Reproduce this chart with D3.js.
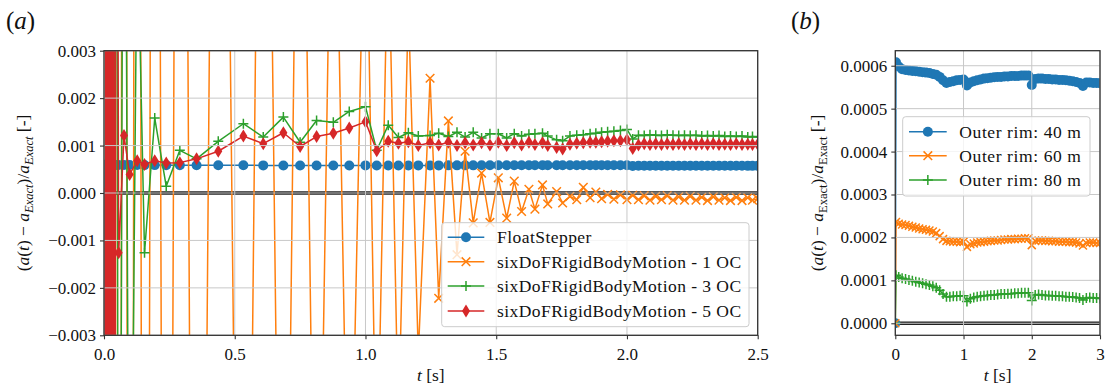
<!DOCTYPE html>
<html><head><meta charset="utf-8">
<script src="https://cdn.jsdelivr.net/npm/d3@7"></script>
<style>
body{margin:0;background:#fff}
svg{display:block}
text{font-family:"Liberation Serif","Times New Roman",serif;fill:#111}
</style>
</head><body>
<svg id="c" width="1107" height="389"></svg>
<script>
// ---------------- Panel (a) data ----------------
const tA = [0, 0.004, 0.008, 0.012, 0.016, 0.020, 0.025, 0.030, 0.035, 0.040,
  0.046, 0.056, 0.0765, 0.098, 0.127, 0.155, 0.194, 0.238, 0.290, 0.354,
  0.437, 0.533, 0.609, 0.686, 0.750, 0.813, 0.877, 0.938, 1.000, 1.043,
  1.087, 1.126, 1.164, 1.202, 1.247, 1.280, 1.317, 1.350, 1.381, 1.412,
  1.444, 1.476, 1.508, 1.540, 1.569, 1.597, 1.625, 1.648, 1.677, 1.697,
  1.731, 1.754, 1.782, 1.808, 1.833, 1.859, 1.881, 1.903, 1.926, 1.950,
  1.975, 2.000, 2.022, 2.044, 2.066, 2.088, 2.110, 2.132, 2.154, 2.176,
  2.198, 2.220, 2.242, 2.264, 2.286, 2.308, 2.330, 2.352, 2.374, 2.396,
  2.418, 2.440, 2.462, 2.480, 2.500];

const floatStepper = [0, 0.000598, 0.000596, 0.000595, 0.000594, 0.000594, 0.000593, 0.000593, 0.000592, 0.000592,
  0.000591, 0.000590, 0.000590, 0.000589, 0.000589, 0.000588, 0.000588, 0.000587, 0.000587, 0.000586,
  0.000585, 0.000584, 0.000582, 0.000580, 0.000579, 0.000580, 0.000581, 0.000581, 0.000582, 0.000578,
  0.000580, 0.000581, 0.000581, 0.000582, 0.000582, 0.000582, 0.000583, 0.000583, 0.000583, 0.000583,
  0.000584, 0.000584, 0.000584, 0.000584, 0.000584, 0.000585, 0.000585, 0.000585, 0.000585, 0.000585,
  0.000585, 0.000585, 0.000585, 0.000585, 0.000586, 0.000586, 0.000586, 0.000586, 0.000586, 0.000586,
  0.000586, 0.000586, 0.000570, 0.000575, 0.000576, 0.000576, 0.000576, 0.000576, 0.000575, 0.000575,
  0.000575, 0.000575, 0.000574, 0.000574, 0.000574, 0.000574, 0.000574, 0.000573, 0.000573, 0.000573,
  0.000573, 0.000573, 0.000572, 0.000572, 0.000572];

const oc1 = [0, -0.09, 0.09, -0.085, 0.085, -0.08, 0.08, -0.075, 0.075, -0.07,
  0.07, -0.065, 0.06, -0.055, 0.05, -0.046, 0.042, -0.038, 0.034, -0.030,
  0.026, -0.022, 0.019, -0.016, 0.014, -0.012, 0.010, -0.0088, 0.0076, -0.0066,
  0.0058, -0.0050, 0.0040, -0.0034, 0.00242, -0.00222, 0.00152, -0.0013, 0.00088, -0.00063,
  0.00042, -0.00062, 0.00032, -0.00053, 0.00025, -0.00039, 0.00008, -0.00034, 0.00017, -0.00023,
  0.00003, -0.00021, -0.00007, -0.00014, 0.00012, -0.0001, 0.00002, -0.00012, -0.00003, -0.00013,
  -0.00004, -0.00014, -0.00005, -0.00014, -0.00006, -0.00015, -0.00007, -0.00014, -0.00006, -0.00015,
  -0.00008, -0.00015, -0.00007, -0.00015, -0.00009, -0.00016, -0.00008, -0.00015, -0.00010, -0.00016,
  -0.00009, -0.00016, -0.00010, -0.00015, -0.00012];

const oc3 = [0, -0.05, 0.05, -0.045, 0.045, -0.04, 0.04, -0.035, 0.03, -0.028,
  0.025, -0.02, 0.015, -0.012, 0.006, -0.00126, 0.00158, 0.00014, 0.00090, 0.00072,
  0.00109, 0.00146, 0.00118, 0.00160, 0.00107, 0.00153, 0.00149, 0.00172, 0.00182, 0.00090,
  0.00143, 0.00117, 0.00127, 0.00120, 0.00121, 0.00126, 0.00119, 0.00128, 0.00118, 0.00128,
  0.00116, 0.00125, 0.00125, 0.00116, 0.00125, 0.00120, 0.00124, 0.00125, 0.00126, 0.00120,
  0.00112, 0.00110, 0.00120, 0.00122, 0.00123, 0.00125, 0.00126, 0.00128, 0.00129, 0.00130,
  0.00132, 0.00134, 0.00114, 0.00122, 0.00121, 0.00123, 0.00122, 0.00121, 0.00123, 0.00122,
  0.00121, 0.00122, 0.00121, 0.00122, 0.00120, 0.00121, 0.00120, 0.00121, 0.00119, 0.00120,
  0.00119, 0.00120, 0.00118, 0.00119, 0.00118];

const oc5 = [0, -0.06, 0.06, -0.055, 0.05, -0.045, 0.04, -0.035, 0.03, -0.025,
  0.02, -0.00126, 0.00121, 0.00039, 0.00068, 0.00060, 0.00068, 0.00063, 0.00064, 0.00072,
  0.00088, 0.00120, 0.00104, 0.00127, 0.00098, 0.00119, 0.00126, 0.00137, 0.00150, 0.00089,
  0.00109, 0.00105, 0.00108, 0.00100, 0.00106, 0.00101, 0.00107, 0.00100, 0.00106, 0.00101,
  0.00106, 0.00101, 0.00107, 0.00100, 0.00106, 0.00101, 0.00107, 0.00102, 0.00106, 0.00100,
  0.00096, 0.00093, 0.00103, 0.00105, 0.00106, 0.00107, 0.00107, 0.00108, 0.00109, 0.00110,
  0.00110, 0.00112, 0.00094, 0.00101, 0.00104, 0.00102, 0.00104, 0.00102, 0.00104, 0.00102,
  0.00104, 0.00102, 0.00104, 0.00102, 0.00104, 0.00102, 0.00104, 0.00102, 0.00103, 0.00102,
  0.00104, 0.00102, 0.00103, 0.00102, 0.00103];

const namesA = ["FloatStepper", "sixDoFRigidBodyMotion - 1 OC", "sixDoFRigidBodyMotion - 3 OC", "sixDoFRigidBodyMotion - 5 OC"];
const xTicksA = [0, 0.5, 1.0, 1.5, 2.0, 2.5];
const xTickLabelsA = ["0.0", "0.5", "1.0", "1.5", "2.0", "2.5"];
const yTicksA = [-0.003, -0.002, -0.001, 0, 0.001, 0.002, 0.003];
const yTickLabelsA = ["\u22120.003", "\u22120.002", "\u22120.001", "0.000", "0.001", "0.002", "0.003"];

// ---------------- Panel (b) data ----------------
const tB = [0, 0.01, 0.05, 0.10, 0.15, 0.20, 0.25, 0.30, 0.35, 0.40,
  0.45, 0.50, 0.55, 0.60, 0.65, 0.70, 0.75, 0.80, 0.85, 0.90,
  0.95, 1.00, 1.05, 1.10, 1.15, 1.20, 1.25, 1.30, 1.35, 1.40,
  1.45, 1.50, 1.55, 1.60, 1.65, 1.70, 1.75, 1.80, 1.85, 1.90,
  1.95, 2.00, 2.05, 2.10, 2.15, 2.20, 2.25, 2.30, 2.35, 2.40,
  2.45, 2.50, 2.55, 2.60, 2.65, 2.70, 2.75, 2.80, 2.85, 2.90,
  2.95, 3.00];

const rim40 = [0, 0.000608, 0.000598, 0.000592, 0.000590, 0.000589, 0.000588, 0.000587, 0.000586, 0.000585,
  0.000584, 0.000583, 0.000581, 0.000579, 0.000574, 0.000566, 0.000560, 0.000562, 0.000564, 0.000566,
  0.000567, 0.000568, 0.000554, 0.000561, 0.000564, 0.000566, 0.000568, 0.000570, 0.000571, 0.000572,
  0.000573, 0.000574, 0.000574, 0.000575, 0.000575, 0.000576, 0.000576, 0.000576, 0.000577, 0.000577,
  0.000577, 0.000555, 0.000569, 0.000570, 0.000570, 0.000569, 0.000569, 0.000568, 0.000568, 0.000567,
  0.000567, 0.000566, 0.000565, 0.000564, 0.000562, 0.000560, 0.000553, 0.000561, 0.000561, 0.000560,
  0.000560, 0.000559];

const rim60 = [0, 0.000236, 0.000232, 0.000230, 0.000229, 0.000227, 0.000225, 0.000223, 0.000221, 0.000219,
  0.000218, 0.000216, 0.000214, 0.000210, 0.000203, 0.000196, 0.000192, 0.000191, 0.000190, 0.000190,
  0.000189, 0.000190, 0.000178, 0.000184, 0.000186, 0.000188, 0.000189, 0.000190, 0.000191, 0.000192,
  0.000193, 0.000193, 0.000194, 0.000195, 0.000195, 0.000196, 0.000196, 0.000197, 0.000197, 0.000198,
  0.000198, 0.000182, 0.000192, 0.000193, 0.000193, 0.000192, 0.000192, 0.000191, 0.000191, 0.000190,
  0.000190, 0.000190, 0.000189, 0.000189, 0.000188, 0.000186, 0.000181, 0.000187, 0.000188, 0.000188,
  0.000187, 0.000187];

const rim80 = [0, 0.000112, 0.000108, 0.000105, 0.000103, 0.000101, 0.000099, 0.000097, 0.000095, 0.000093,
  0.000091, 0.000089, 0.000086, 0.000083, 0.000077, 0.000068, 0.000062, 0.000062, 0.000063, 0.000063,
  0.000064, 0.000064, 0.000051, 0.000057, 0.000060, 0.000062, 0.000063, 0.000064, 0.000065, 0.000066,
  0.000066, 0.000067, 0.000068, 0.000068, 0.000069, 0.000069, 0.000070, 0.000070, 0.000071, 0.000071,
  0.000071, 0.000053, 0.000066, 0.000067, 0.000066, 0.000065, 0.000065, 0.000064, 0.000064, 0.000063,
  0.000063, 0.000062, 0.000062, 0.000061, 0.000060, 0.000059, 0.000054, 0.000059, 0.000060, 0.000059,
  0.000059, 0.000058];

const namesB = ["Outer rim: 40 m", "Outer rim: 60 m", "Outer rim: 80 m"];
const xTicksB = [0, 1, 2, 3];
const xTickLabelsB = ["0", "1", "2", "3"];
const yTicksB = [0, 0.0001, 0.0002, 0.0003, 0.0004, 0.0005, 0.0006];
const yTickLabelsB = ["0.0000", "0.0001", "0.0002", "0.0003", "0.0004", "0.0005", "0.0006"];

// ---------------- drawing ----------------
const C = {blue: "#1f77b4", orange: "#ff7f0e", green: "#2ca02c", red: "#d62728"};
const svg = d3.select("#c");
const FS = 17;

function drawMarker(g, kind, cx, cy, color, s) {
  if (kind === "o") {
    g.append("circle").attr("cx", cx).attr("cy", cy).attr("r", s.r).attr("fill", color);
  } else if (kind === "x") {
    const h = s.h;
    g.append("path").attr("d", `M${cx-h},${cy-h}L${cx+h},${cy+h}M${cx-h},${cy+h}L${cx+h},${cy-h}`)
      .attr("stroke", color).attr("stroke-width", 1.5).attr("fill", "none");
  } else if (kind === "+") {
    const h = s.h;
    g.append("path").attr("d", `M${cx-h},${cy}H${cx+h}M${cx},${cy-h}V${cy+h}`)
      .attr("stroke", color).attr("stroke-width", 1.5).attr("fill", "none");
  } else if (kind === "d") {
    g.append("path").attr("d", `M${cx},${cy-s.hh}L${cx+s.hw},${cy}L${cx},${cy+s.hh}L${cx-s.hw},${cy}Z`)
      .attr("fill", color);
  }
}

function mathLabel(g, cx, cy, uprightSub) {
  const t = g.append("text").attr("transform", `translate(${cx},${cy}) rotate(-90)`)
    .attr("text-anchor", "middle").style("font-size", "17.5px");
  const parts = [["(", 0], ["a", 1], ["(", 0], ["t", 1], [") \u2212 ", 0], ["a", 1], ["Exact", 2], [")/", 0], ["a", 1], ["Exact", 2], [" [-]", 0]];
  let sub = false;
  parts.forEach(([s, k]) => {
    const sp = t.append("tspan").text(s);
    if (k === 1) sp.style("font-style", "italic");
    if (k === 2) {
      sp.style("font-size", "12.5px").attr("dy", 4);
      if (!uprightSub) sp.style("font-style", "italic");
      sub = true;
    } else if (sub) {
      sp.attr("dy", -4); sub = false;
    }
  });
}

function panel(o) {
  const g = svg.append("g");
  const x = d3.scaleLinear().domain(o.xDomain).range([o.left, o.right]);
  const y = d3.scaleLinear().domain(o.yDomain).range([o.bottom, o.top]);
  const clipId = o.id + "clip";
  svg.append("clipPath").attr("id", clipId).append("rect")
    .attr("x", o.left).attr("y", o.top).attr("width", o.right - o.left).attr("height", o.bottom - o.top);

  const plot = g.append("g").attr("clip-path", `url(#${clipId})`);
  plot.append("line").attr("x1", o.left).attr("x2", o.right).attr("y1", y(0)).attr("y2", y(0))
    .attr("stroke", "#222").attr("stroke-width", 3.4);

  const line = d3.line().x(d => x(d[0])).y(d => y(d[1]));
  o.series.forEach(s => {
    const pts = s.t.map((t, i) => [t, s.v[i]]);
    plot.append("path").attr("d", line(pts)).attr("fill", "none").attr("stroke", s.color)
      .attr("stroke-width", 1.5).attr("stroke-linejoin", "round");
    const mg = plot.append("g");
    pts.forEach(p => {
      const py = y(p[1]);
      if (py < o.top - 20 || py > o.bottom + 20) return;
      drawMarker(mg, s.marker, x(p[0]), py, s.color, s.size);
    });
  });

  const grid = g.append("g").attr("stroke", "#c8c8c8").attr("stroke-width", 1);
  o.xTicks.forEach(v => grid.append("line").attr("x1", x(v)).attr("x2", x(v)).attr("y1", o.top).attr("y2", o.bottom));
  o.yTicks.forEach(v => grid.append("line").attr("x1", o.left).attr("x2", o.right).attr("y1", y(v)).attr("y2", y(v)));

  const ax = d3.axisBottom(x).tickValues(o.xTicks).tickFormat((d, i) => o.xLabels[i]).tickSize(4).tickPadding(5);
  const ay = d3.axisLeft(y).tickValues(o.yTicks).tickFormat((d, i) => o.yLabels[i]).tickSize(4).tickPadding(4);
  const gx = g.append("g").attr("transform", `translate(0,${o.bottom})`).call(ax);
  const gy = g.append("g").attr("transform", `translate(${o.left},0)`).call(ay);
  [gx, gy].forEach(a => {
    a.select(".domain").remove();
    a.selectAll("line").attr("stroke", "#333").attr("stroke-width", 1.1);
    a.selectAll("text").style("font-size", FS + "px").style("font-family", "'Liberation Serif', serif").attr("fill", "#111");
  });
  gx.selectAll("text").attr("dy", "0.95em");
  g.append("rect").attr("x", o.left).attr("y", o.top).attr("width", o.right - o.left).attr("height", o.bottom - o.top)
    .attr("fill", "none").attr("stroke", "#333").attr("stroke-width", 1.3);

  const xl = g.append("text").attr("x", (o.left + o.right) / 2).attr("y", 381).attr("text-anchor", "middle").style("font-size", "17.5px");
  xl.append("tspan").style("font-style", "italic").text("t");
  xl.append("tspan").text(" [s]");
  mathLabel(g, o.ylabelX, (o.top + o.bottom) / 2, o.uprightSub);

  const tt = g.append("text").attr("x", o.titleX).attr("y", 29).style("font-size", "25px");
  tt.append("tspan").text("(");
  tt.append("tspan").style("font-style", "italic").text(o.title);
  tt.append("tspan").text(")");

  const L = o.legend;
  const lg = g.append("g");
  lg.append("rect").attr("x", L.x).attr("y", L.y).attr("width", L.w).attr("height", L.h).attr("rx", 3)
    .attr("fill", "#fff").attr("fill-opacity", 0.8).attr("stroke", "#cccccc").attr("stroke-width", 1);
  o.series.forEach((s, i) => {
    const ry = L.rows[i];
    lg.append("line").attr("x1", L.hx0).attr("x2", L.hx1).attr("y1", ry).attr("y2", ry)
      .attr("stroke", s.color).attr("stroke-width", 1.5);
    drawMarker(lg, s.marker, (L.hx0 + L.hx1) / 2, ry, s.color, s.legendSize || s.size);
    lg.append("text").attr("x", L.tx).attr("y", ry + 6).style("font-size", "17.5px")
      .style("letter-spacing", L.ls + "px").text(s.name);
  });
}

panel({
  id: "a", left: 104, right: 757.7, top: 50.7, bottom: 335.3,
  xDomain: [0, 2.5], yDomain: [-0.003, 0.003],
  xTicks: xTicksA, xLabels: xTickLabelsA, yTicks: yTicksA, yLabels: yTickLabelsA,
  ylabelX: 29, uprightSub: false, title: "a", titleX: 6,
  series: [
    {name: namesA[0], t: tA, v: floatStepper, color: C.blue, marker: "o", size: {r: 5}},
    {name: namesA[1], t: tA, v: oc1, color: C.orange, marker: "x", size: {h: 4.3}},
    {name: namesA[2], t: tA, v: oc3, color: C.green, marker: "+", size: {h: 5}},
    {name: namesA[3], t: tA, v: oc5, color: C.red, marker: "d", size: {hw: 4, hh: 6.5}}
  ],
  legend: {x: 441.7, y: 222.7, w: 307.3, h: 104, rows: [237.3, 261.7, 286, 311], hx0: 447.7, hx1: 484.3, tx: 497, ls: 0.45}
});

panel({
  id: "b", left: 895.3, right: 1100, top: 50.7, bottom: 335.3,
  xDomain: [0, 3], yDomain: [-0.000028, 0.000635],
  xTicks: xTicksB, xLabels: xTickLabelsB, yTicks: yTicksB, yLabels: yTickLabelsB,
  ylabelX: 823, uprightSub: true, title: "b", titleX: 791,
  series: [
    {name: namesB[0], t: tB, v: rim40, color: C.blue, marker: "o", size: {r: 5}, legendSize: {r: 5}},
    {name: namesB[1], t: tB, v: rim60, color: C.orange, marker: "x", size: {h: 4}, legendSize: {h: 4.3}},
    {name: namesB[2], t: tB, v: rim80, color: C.green, marker: "+", size: {h: 5}, legendSize: {h: 5}}
  ],
  legend: {x: 902.7, y: 116.7, w: 187.3, h: 79.3, rows: [131.7, 155.7, 180], hx0: 909, hx1: 946.7, tx: 959.3, ls: 0.6}
});
</script>
</body></html>
